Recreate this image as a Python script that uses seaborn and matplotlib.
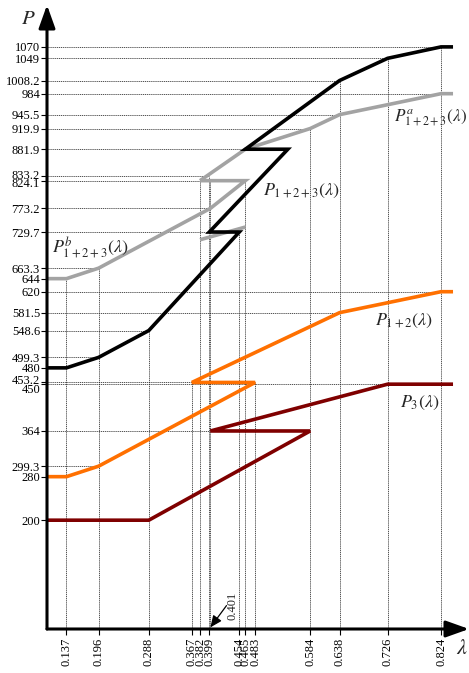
import matplotlib
matplotlib.use("Agg")
import matplotlib.pyplot as plt
import matplotlib.transforms as mtransforms
from matplotlib.patches import ArrowStyle
import seaborn as sns

# axis range (lambda, power)
x_lo, x_hi = 0.1013, 0.8753
y_lo, y_hi = 0.0, 1147.0
lam_end = 0.846

# piecewise load curves (ordered along the path, including the hysteresis loops)
p3_lam = [x_lo, 0.288, 0.584, 0.401, 0.726, lam_end]
p3_val = [200, 200, 364, 364, 450, 450]

p12_lam = [x_lo, 0.137, 0.196, 0.483, 0.367, 0.638, 0.824, lam_end]
p12_val = [280, 280, 299.3, 453.2, 453.2, 581.5, 620, 620]

p123_lam = [x_lo, 0.137, 0.196, 0.288, 0.454, 0.399, 0.543, 0.465, 0.638, 0.726, 0.824, lam_end]
p123_val = [480, 480, 499.3, 548.6, 729.7, 729.7, 881.9, 881.9, 1008.2, 1049, 1070, 1070]

pb_lam = [x_lo, 0.137, 0.196, 0.401, 0.465, 0.382]
pb_val = [644, 644, 663.3, 773.2, 824.1, 824.1]

pa_lam = [0.382, 0.465, 0.584, 0.638, 0.824, lam_end]
pa_val = [824.1, 881.9, 919.9, 945.5, 984, 984]

stub_lam = [0.382, 0.465]
stub_val = [715.5, 738.8]

# axis ticks
y_ticks = [1070, 1049, 1008.2, 984, 945.5, 919.9, 881.9, 833.2, 824.1, 773.2, 729.7,
           663.3, 644, 620, 581.5, 548.6, 499.3, 480, 453.2, 450, 364, 299.3, 280, 200]
y_labels = ["1070", "1049", "1008.2", "984", "945.5", "919.9", "881.9", "833.2", "824.1",
            "773.2", "729.7", "663.3", "644", "620", "581.5", "548.6", "499.3", "480",
            "453.2", "450", "364", "299.3", "280", "200"]
x_ticks = [0.137, 0.196, 0.288, 0.367, 0.382, 0.399, 0.454, 0.465, 0.483, 0.584, 0.638, 0.726, 0.824]
x_labels = ["0.137", "0.196", "0.288", "0.367", "0.382", "0.399", "0.454", "0.465", "0.483",
            "0.584", "0.638", "0.726", "0.824"]
lam_mark = 0.401

# reference lines: horizontal ones run from the axis to hgrid_end,
# vertical ones from the axis up to vgrid_top
hgrid_end = [0.824, 0.726, 0.638, 0.824, 0.638, 0.584, 0.465, 0.399, 0.382, 0.401, 0.399,
             0.196, 0.137, 0.824, 0.638, 0.288, 0.196, 0.137, 0.367, 0.726, 0.401, 0.196, 0.137, 0.288]
vgrid_lam = [0.137, 0.196, 0.288, 0.367, 0.382, 0.399, 0.401, 0.454, 0.465, 0.483, 0.584, 0.638, 0.726, 0.824]
vgrid_top = [644, 663.3, 548.6, 453.2, 824.1, 833.2, 824.1, 729.7, 824.1, 453.2, 919.9, 1008.2, 1049, 1070]

sns.set_theme(style="white")
plt.rcParams["font.family"] = ["Liberation Serif", "DejaVu Serif"]
plt.rcParams["mathtext.fontset"] = "stix"

fig = plt.figure(figsize=(4.69, 6.73), dpi=100)
ax = fig.add_axes([47 / 469, 44 / 673, 422 / 469, 624 / 673])
ax.set_xlim(x_lo, x_hi)
ax.set_ylim(y_lo, y_hi)

grid_kw = dict(color="#222222", lw=0.55, linestyles=(0, (1.5, 1)), zorder=1)
ax.hlines(y_ticks, x_lo, hgrid_end, **grid_kw)
ax.vlines(vgrid_lam, y_lo, vgrid_top, **grid_kw)

line_kw = dict(sort=False, estimator=None, lw=2.6, ax=ax, legend=False)
gray, black, orange, dred = "#a3a3a3", "#000000", "#ff7000", "#7f0000"
for lam, val, col in [(pb_lam, pb_val, gray), (pa_lam, pa_val, gray), (stub_lam, stub_val, gray),
                      (p123_lam, p123_val, black), (p12_lam, p12_val, orange), (p3_lam, p3_val, dred)]:
    sns.lineplot(x=lam, y=val, color=col, zorder=3, **line_kw)
for ln in ax.lines:
    ln.set_solid_joinstyle("miter")
    ln.set_solid_capstyle("butt")

# ticks
ax.set_yticks(y_ticks)
ax.set_yticklabels(y_labels)
ax.set_xticks(x_ticks)
ax.set_xticklabels(x_labels)
ax.tick_params(axis="y", direction="out", length=4, width=0.8, pad=1, labelsize=9,
               colors="black", left=True)
ax.tick_params(axis="x", direction="out", length=4, width=0.8, pad=2, labelsize=9,
               labelrotation=90, colors="black", bottom=True)

# nudge crowded labels apart (pixels, positive = down)
nudge = {"453.2": -3.0, "450": 4.5, "833.2": -1.5, "824.1": 2.0}
for tick, lab in zip(ax.yaxis.get_major_ticks(), y_labels):
    if lab in nudge:
        off = mtransforms.ScaledTranslation(0, -nudge[lab] / 100, fig.dpi_scale_trans)
        tick.label1.set_transform(tick.label1.get_transform() + off)

for s in ax.spines.values():
    s.set_visible(False)

# axes drawn as arrows
arrow_kw = dict(arrowstyle=ArrowStyle("-|>", head_length=0.7, head_width=0.25),
                lw=2.2, color="black", shrinkA=0, shrinkB=0, mutation_scale=20)
ax.annotate("", xy=(0, 1), xytext=(0, 0), xycoords="axes fraction",
            arrowprops=arrow_kw, annotation_clip=False, zorder=5)
ax.annotate("", xy=(1, 0), xytext=(0, 0), xycoords="axes fraction",
            arrowprops=arrow_kw, annotation_clip=False, zorder=5)

ax.text(0.0664, 1121, "$P$", fontsize=15, ha="center", va="center", clip_on=False)
ax.text(0.8625, -38, r"$\lambda$", fontsize=16, ha="center", va="center", clip_on=False)

# marked lambda with pointer
ax.text(0.4424, 17, "0.401", rotation=90, fontsize=9, ha="center", va="bottom")
ax.annotate("", xy=(lam_mark, 3), xytext=(0.4305, 43),
            arrowprops=dict(arrowstyle=ArrowStyle("-|>", head_length=0.5, head_width=0.22),
                            lw=0.9, color="black", shrinkA=0, shrinkB=0, mutation_scale=14))

# curve names
lab_kw = dict(fontsize=13, ha="left", va="center")
ax.text(0.7380, 940, r"$P^{a}_{1+2+3}(\lambda)$", fontsize=12.3, ha="left", va="center")
ax.text(0.4975, 805, r"$P_{1+2+3}(\lambda)$", **lab_kw)
ax.text(0.1105, 700, r"$P^{b}_{1+2+3}(\lambda)$", **lab_kw)
ax.text(0.7029, 566, r"$P_{1+2}(\lambda)$", **lab_kw)
ax.text(0.7487, 415, r"$P_{3}(\lambda)$", **lab_kw)

fig.savefig("out.png", dpi=100)
